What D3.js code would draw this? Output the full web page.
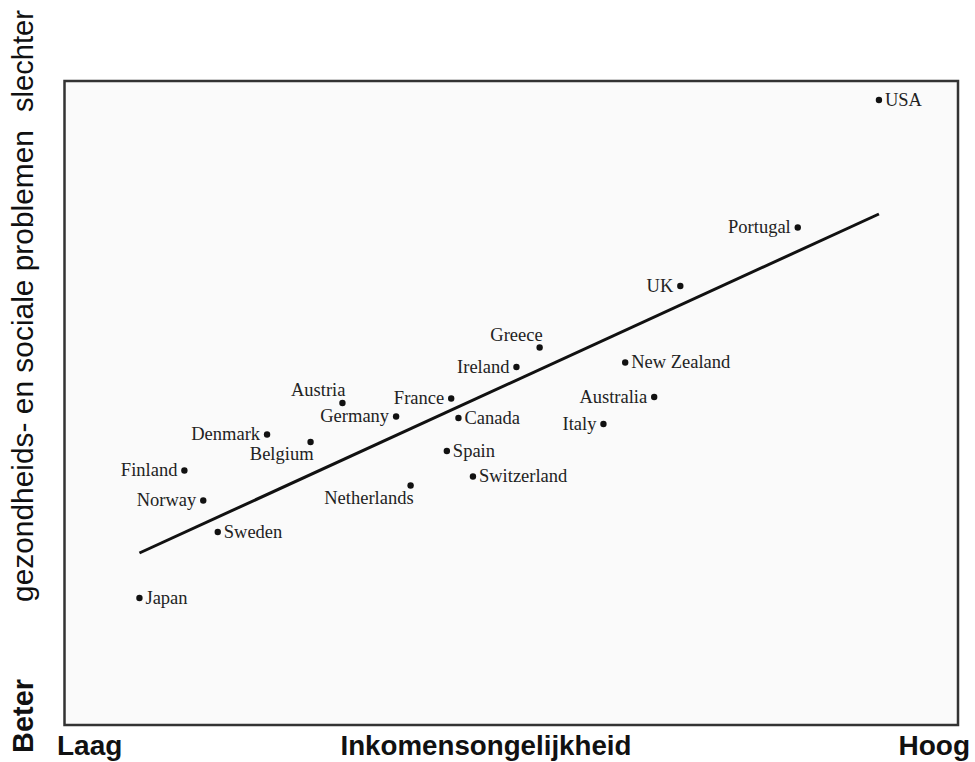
<!DOCTYPE html>
<html>
<head>
<meta charset="utf-8">
<script src="https://cdn.jsdelivr.net/npm/d3@7"></script>
<style>
  body { margin: 0; background: #fff; }
  svg { display: block; }
</style>
</head>
<body>
<svg width="975" height="762"></svg>
<script>
const svg = d3.select("svg");
const width = +svg.attr("width");
const height = +svg.attr("height");

// ---- data ----
const countries = ["USA", "Portugal", "UK", "Greece", "Ireland", "New Zealand", "Australia",
  "Italy", "France", "Canada", "Austria", "Germany", "Denmark", "Belgium", "Spain",
  "Switzerland", "Finland", "Norway", "Netherlands", "Sweden", "Japan"];
const inequality = [8.51, 7.95, 7.14, 6.17, 6.01, 6.76, 6.96,
  6.61, 5.56, 5.61, 4.81, 5.18, 4.29, 4.59, 5.53,
  5.71, 3.72, 3.85, 5.28, 3.95, 3.41];
const problems = [2.00, 1.15, 0.76, 0.35, 0.22, 0.25, 0.02,
  -0.16, 0.01, -0.12, -0.02, -0.11, -0.23, -0.28, -0.34,
  -0.51, -0.47, -0.67, -0.57, -0.88, -1.32];
const trendX = [3.41, 8.51];
const trendY = [-1.02, 1.24];

const data = countries.map((c, i) => ({ name: c, x: inequality[i], y: problems[i] }));
const trend = trendX.map((v, i) => ({ x: v, y: trendY[i] }));

// label placement around the dot
const leftLabels = ["Portugal", "UK", "Ireland", "Australia", "Italy", "France", "Germany",
  "Denmark", "Finland", "Norway"];
const aboveLabels = ["Greece", "Austria"];
const belowLabels = ["Belgium", "Netherlands"];

// ---- layout ----
const frame = { left: 64.5, top: 81, right: 958, bottom: 725 };

const x = d3.scaleLinear().domain([3, 9]).range([80, 950]);
const y = d3.scaleLinear().domain([-2, 2.2]).range([700, 70]);

// frame
svg.append("rect")
  .attr("x", frame.left)
  .attr("y", frame.top)
  .attr("width", frame.right - frame.left)
  .attr("height", frame.bottom - frame.top)
  .attr("fill", "#fafafa")
  .attr("stroke", "#333")
  .attr("stroke-width", 2.5);

// regression line
svg.append("path")
  .datum(trend)
  .attr("d", d3.line().x(d => x(d.x)).y(d => y(d.y)))
  .attr("fill", "none")
  .attr("stroke", "#111")
  .attr("stroke-width", 3);

// points
const pts = svg.append("g").selectAll("g")
  .data(data)
  .join("g")
  .attr("transform", d => `translate(${x(d.x)},${y(d.y)})`);

pts.append("circle")
  .attr("r", 3.2)
  .attr("fill", "#111");

pts.append("text")
  .text(d => d.name)
  .attr("font-family", "'Liberation Serif', 'DejaVu Serif', serif")
  .attr("font-size", 18.5)
  .attr("fill", "#222")
  .attr("text-anchor", d => (leftLabels.includes(d.name) || aboveLabels.includes(d.name) || belowLabels.includes(d.name)) ? "end" : "start")
  .attr("x", d => {
    if (leftLabels.includes(d.name)) return -7;
    if (aboveLabels.includes(d.name) || belowLabels.includes(d.name)) return 3;
    return 6;
  })
  .attr("y", d => {
    if (aboveLabels.includes(d.name)) return -7;
    if (belowLabels.includes(d.name)) return 18;
    return 5.5;
  });

// ---- axis titles ----
const sans = "'Liberation Sans', Arial, sans-serif";

svg.append("text")
  .attr("x", 57).attr("y", 755)
  .attr("font-family", sans).attr("font-weight", "bold").attr("font-size", 28)
  .attr("fill", "#111")
  .text("Laag");

svg.append("text")
  .attr("x", 486).attr("y", 755)
  .attr("text-anchor", "middle")
  .attr("font-family", sans).attr("font-weight", "bold").attr("font-size", 28)
  .attr("textLength", 291).attr("lengthAdjust", "spacingAndGlyphs")
  .attr("fill", "#111")
  .text("Inkomensongelijkheid");

svg.append("text")
  .attr("x", 970).attr("y", 755)
  .attr("text-anchor", "end")
  .attr("font-family", sans).attr("font-weight", "bold").attr("font-size", 28)
  .attr("fill", "#111")
  .text("Hoog");

const yTitle = svg.append("g").attr("transform", "translate(33,0) rotate(-90)");

yTitle.append("text")
  .attr("x", -753).attr("y", 0)
  .attr("font-family", sans).attr("font-weight", "bold").attr("font-size", 29)
  .attr("textLength", 74).attr("lengthAdjust", "spacingAndGlyphs")
  .attr("fill", "#111")
  .text("Beter");

yTitle.append("text")
  .attr("x", -366).attr("y", 0)
  .attr("text-anchor", "middle")
  .attr("font-family", sans).attr("font-size", 29)
  .attr("textLength", 472).attr("lengthAdjust", "spacingAndGlyphs")
  .attr("fill", "#111")
  .text("gezondheids- en sociale problemen");

yTitle.append("text")
  .attr("x", -10).attr("y", 0)
  .attr("text-anchor", "end")
  .attr("font-family", sans).attr("font-size", 29)
  .attr("textLength", 102).attr("lengthAdjust", "spacingAndGlyphs")
  .attr("fill", "#111")
  .text("slechter");
</script>
</body>
</html>
